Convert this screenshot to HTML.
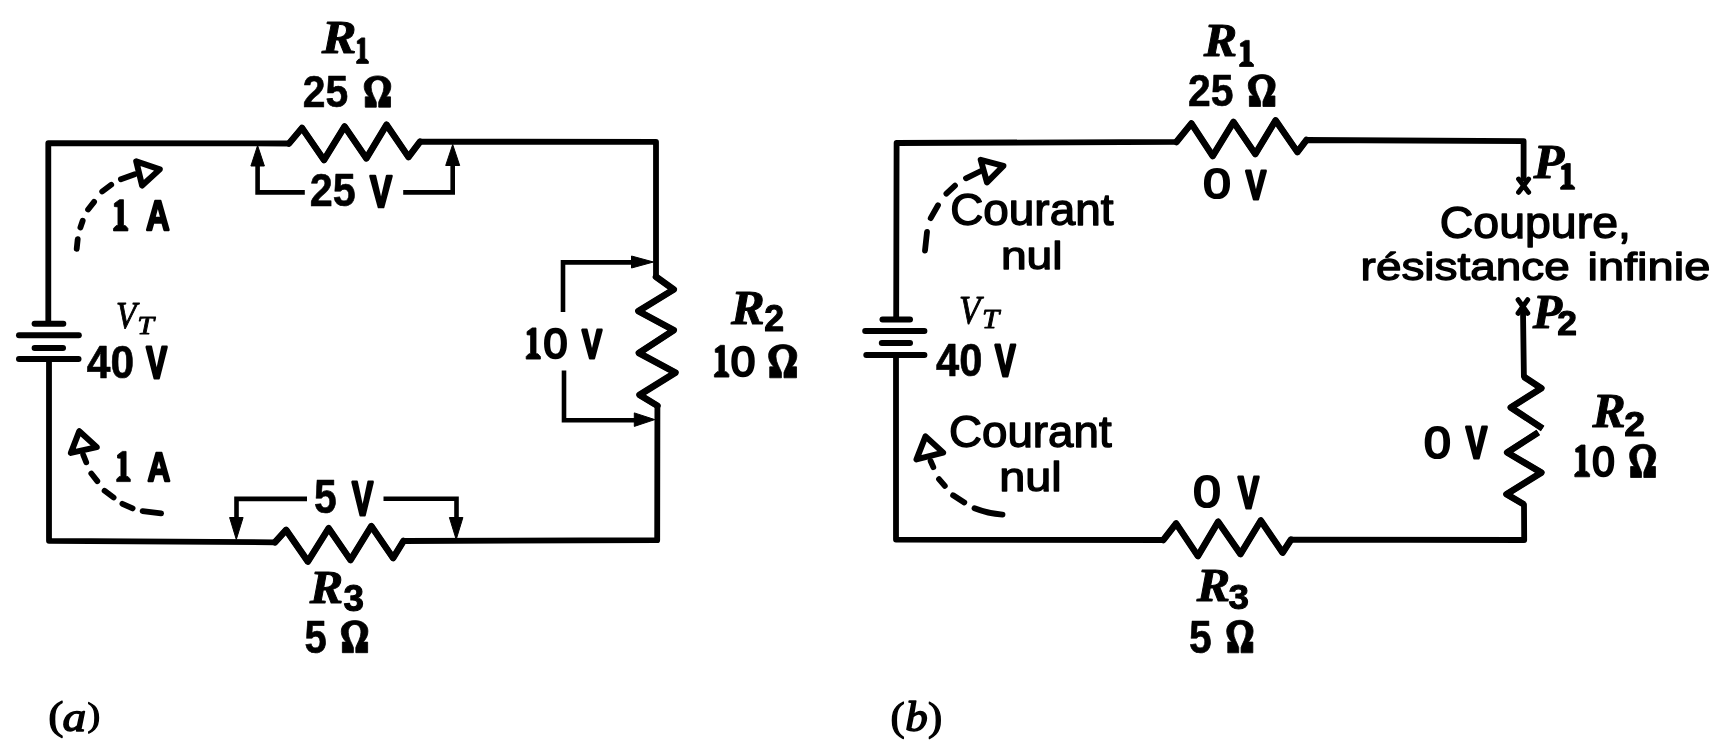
<!DOCTYPE html>
<html><head><meta charset="utf-8"><title>Circuit</title>
<style>
html,body{margin:0;padding:0;background:#fff;}
body{width:1720px;height:751px;overflow:hidden;font-family:"Liberation Sans",sans-serif;}
svg{display:block;filter:grayscale(1);}
text{font-size:100px;fill:#000;}
</style></head><body>
<svg width="1720" height="751" viewBox="0 0 1720 751">
<rect x="0" y="0" width="1720" height="751" fill="#fff"/>
<path d="M48.3,321.5 L48.3,143.2 L289.0,143.5 L302.0,128.0 L324.0,160.0 L344.6,126.5 L366.4,158.3 L386.6,124.8 L408.5,157.0 L420.0,141.7 L656.0,141.8 L656.0,276.8 L673.7,289.5 L638.4,311.1 L673.7,330.2 L638.9,353.0 L675.4,372.6 L639.6,394.9 L657.4,405.7 L657.2,540.2 L403.5,541.0 L393.1,558.0 L371.3,526.2 L350.5,560.0 L328.7,528.3 L307.9,561.5 L286.1,530.0 L275.0,542.3 L49.0,540.8 L49.0,361.0" fill="none" stroke="#000" stroke-width="5.8" stroke-linejoin="round" stroke-linecap="butt"/>
<path d="M289.0,143.5 L302.0,128.0 L324.0,160.0 L344.6,126.5 L366.4,158.3 L386.6,124.8 L408.5,157.0 L420.0,141.7" fill="none" stroke="#000" stroke-width="6.6" stroke-linejoin="round" stroke-linecap="round"/>
<path d="M656.0,276.8 L673.7,289.5 L638.4,311.1 L673.7,330.2 L638.9,353.0 L675.4,372.6 L639.6,394.9 L657.4,405.7" fill="none" stroke="#000" stroke-width="6.6" stroke-linejoin="round" stroke-linecap="round"/>
<path d="M403.5,541.0 L393.1,558.0 L371.3,526.2 L350.5,560.0 L328.7,528.3 L307.9,561.5 L286.1,530.0 L275.0,542.3" fill="none" stroke="#000" stroke-width="6.6" stroke-linejoin="round" stroke-linecap="round"/>
<line x1="34.6" y1="323.7" x2="63.3" y2="323.7" stroke="#000" stroke-width="6.0" stroke-linecap="round"/>
<line x1="19.0" y1="335.2" x2="78.8" y2="335.2" stroke="#000" stroke-width="6.0" stroke-linecap="round"/>
<line x1="34.6" y1="348.0" x2="63.0" y2="348.0" stroke="#000" stroke-width="6.0" stroke-linecap="round"/>
<line x1="19.0" y1="359.0" x2="78.5" y2="359.0" stroke="#000" stroke-width="6.0" stroke-linecap="round"/>
<path d="M257.6,160.0 L257.6,192.4 L304.8,192.4" fill="none" stroke="#000" stroke-width="4.6" stroke-linejoin="miter" stroke-linecap="butt"/>
<path d="M403.2,192.4 L452.7,192.4 L452.7,160.0" fill="none" stroke="#000" stroke-width="4.6" stroke-linejoin="miter" stroke-linecap="butt"/>
<polygon points="257.6,145.5 264.4,166.0 250.9,166.0" fill="#000" stroke="#000" stroke-width="1" stroke-linejoin="round"/>
<polygon points="452.7,144.5 459.7,165.5 445.7,165.5" fill="#000" stroke="#000" stroke-width="1" stroke-linejoin="round"/>
<path d="M563.0,312.0 L563.0,262.4 L640.0,262.4" fill="none" stroke="#000" stroke-width="4.6" stroke-linejoin="miter" stroke-linecap="butt"/>
<polygon points="653.5,262.0 631.5,268.0 631.5,256.0" fill="#000" stroke="#000" stroke-width="1" stroke-linejoin="round"/>
<path d="M564.0,370.5 L564.0,420.2 L640.0,420.2" fill="none" stroke="#000" stroke-width="4.6" stroke-linejoin="miter" stroke-linecap="butt"/>
<polygon points="654.8,419.6 634.3,426.4 634.3,412.9" fill="#000" stroke="#000" stroke-width="1" stroke-linejoin="round"/>
<path d="M307.0,498.9 L236.5,498.9 L236.5,520.0" fill="none" stroke="#000" stroke-width="4.6" stroke-linejoin="miter" stroke-linecap="butt"/>
<polygon points="236.3,539.5 229.6,517.5 243.1,517.5" fill="#000" stroke="#000" stroke-width="1" stroke-linejoin="round"/>
<path d="M383.5,498.8 L456.5,498.8 L456.5,520.0" fill="none" stroke="#000" stroke-width="4.6" stroke-linejoin="miter" stroke-linecap="butt"/>
<polygon points="456.2,539.5 449.4,517.5 462.9,517.5" fill="#000" stroke="#000" stroke-width="1" stroke-linejoin="round"/>
<line x1="76.7" y1="248.9" x2="77.7" y2="239.2" stroke="#000" stroke-width="5.8" stroke-linecap="round"/>
<line x1="80.4" y1="227.5" x2="82.7" y2="220.7" stroke="#000" stroke-width="5.8" stroke-linecap="round"/>
<line x1="88.1" y1="209.5" x2="94.1" y2="201.9" stroke="#000" stroke-width="5.8" stroke-linecap="round"/>
<line x1="102.2" y1="191.5" x2="111.2" y2="184.7" stroke="#000" stroke-width="5.8" stroke-linecap="round"/>
<line x1="120.9" y1="179.3" x2="134.8" y2="174.3" stroke="#000" stroke-width="5.8" stroke-linecap="round"/>
<polygon points="136.2,161.3 159.8,169.4 142.1,185.5" fill="none" stroke="#000" stroke-width="6.0" stroke-linejoin="round"/>
<line x1="83.2" y1="454.7" x2="86.2" y2="462.3" stroke="#000" stroke-width="5.8" stroke-linecap="round"/>
<line x1="91.3" y1="473.5" x2="97.3" y2="481.1" stroke="#000" stroke-width="5.8" stroke-linecap="round"/>
<line x1="104.6" y1="490.7" x2="113.6" y2="497.5" stroke="#000" stroke-width="5.8" stroke-linecap="round"/>
<line x1="122.4" y1="503.8" x2="132.6" y2="508.4" stroke="#000" stroke-width="5.8" stroke-linecap="round"/>
<line x1="142.6" y1="511.1" x2="161.1" y2="513.4" stroke="#000" stroke-width="5.8" stroke-linecap="round"/>
<polygon points="79.3,431.2 70.9,452.9 96.8,447.1" fill="none" stroke="#000" stroke-width="6.0" stroke-linejoin="round"/>
<line x1="925.0" y1="250.5" x2="927.0" y2="232.0" stroke="#000" stroke-width="5.8" stroke-linecap="round"/>
<line x1="930.7" y1="218.1" x2="938.0" y2="205.3" stroke="#000" stroke-width="5.8" stroke-linecap="round"/>
<line x1="946.4" y1="193.7" x2="955.0" y2="185.7" stroke="#000" stroke-width="5.8" stroke-linecap="round"/>
<line x1="966.0" y1="178.3" x2="980.9" y2="171.0" stroke="#000" stroke-width="5.8" stroke-linecap="round"/>
<polygon points="980.7,159.8 1003.4,165.9 987.0,182.4" fill="none" stroke="#000" stroke-width="6.0" stroke-linejoin="round"/>
<line x1="930.6" y1="461.0" x2="933.3" y2="467.2" stroke="#000" stroke-width="5.8" stroke-linecap="round"/>
<line x1="939.0" y1="479.1" x2="944.8" y2="485.9" stroke="#000" stroke-width="5.8" stroke-linecap="round"/>
<line x1="953.1" y1="495.3" x2="964.3" y2="502.5" stroke="#000" stroke-width="5.8" stroke-linecap="round"/>
<path d="M974.5,508.2 Q988,513.5 1002.5,514.6" fill="none" stroke="#000" stroke-width="5.8" stroke-linejoin="round" stroke-linecap="round"/>
<polygon points="925.5,436.4 916.5,459.4 943.2,452.6" fill="none" stroke="#000" stroke-width="6.0" stroke-linejoin="round"/>
<path d="M896.2,317.0 L896.6,143.0 L1176.5,141.9 L1191.4,123.5 L1212.7,156.0 L1233.5,122.0 L1255.3,154.0 L1275.6,120.4 L1297.4,152.0 L1306.5,140.0 L1523.6,141.2 L1523.6,181.0" fill="none" stroke="#000" stroke-width="5.8" stroke-linejoin="round" stroke-linecap="butt"/>
<path d="M1523.0,311.0 L1523.9,376.8 L1541.3,388.3 L1510.8,407.5 L1542.6,428.4" fill="none" stroke="#000" stroke-width="5.8" stroke-linejoin="round" stroke-linecap="butt"/>
<path d="M1538.2,432.4 L1507.2,452.5 L1541.3,472.6 L1506.5,494.2 L1524.0,504.5 L1524.2,540.0 L1291.0,539.6 L1282.6,552.6 L1260.8,520.6 L1240.5,554.0 L1218.2,521.8 L1197.9,556.0 L1176.1,523.5 L1163.3,540.0 L896.0,539.6 L896.0,357.0" fill="none" stroke="#000" stroke-width="5.8" stroke-linejoin="round" stroke-linecap="butt"/>
<path d="M1176.5,141.9 L1191.4,123.5 L1212.7,156.0 L1233.5,122.0 L1255.3,154.0 L1275.6,120.4 L1297.4,152.0 L1306.5,140.0" fill="none" stroke="#000" stroke-width="6.6" stroke-linejoin="round" stroke-linecap="round"/>
<path d="M1523.9,376.8 L1541.3,388.3 L1510.8,407.5 L1542.6,428.4" fill="none" stroke="#000" stroke-width="6.6" stroke-linejoin="round" stroke-linecap="butt"/>
<path d="M1538.2,432.4 L1507.2,452.5 L1541.3,472.6 L1506.5,494.2 L1524.0,504.5" fill="none" stroke="#000" stroke-width="6.6" stroke-linejoin="round" stroke-linecap="butt"/>
<path d="M1291.0,539.6 L1282.6,552.6 L1260.8,520.6 L1240.5,554.0 L1218.2,521.8 L1197.9,556.0 L1176.1,523.5 L1163.3,540.0" fill="none" stroke="#000" stroke-width="6.6" stroke-linejoin="round" stroke-linecap="round"/>
<line x1="882.5" y1="319.5" x2="910.0" y2="319.5" stroke="#000" stroke-width="6.0" stroke-linecap="round"/>
<line x1="865.2" y1="331.0" x2="924.4" y2="331.0" stroke="#000" stroke-width="6.0" stroke-linecap="round"/>
<line x1="881.8" y1="343.0" x2="910.0" y2="343.0" stroke="#000" stroke-width="6.0" stroke-linecap="round"/>
<line x1="866.3" y1="355.0" x2="924.4" y2="355.0" stroke="#000" stroke-width="6.0" stroke-linecap="round"/>
<path d="M1518.6,179.1 L1528.6,192.3 M1528.6,179.1 L1518.6,192.3" stroke="#000" stroke-width="5.0" stroke-linecap="round" fill="none"/>
<path d="M1518.1,299.7 L1527.7,313.3 M1527.7,299.7 L1518.1,313.3" stroke="#000" stroke-width="5.0" stroke-linecap="round" fill="none"/>
<text transform="matrix(0.5206 0 0 0.4626 321.70 53.30)" font-family="'Liberation Serif', serif" font-weight="bold" font-style="italic" stroke="#000" stroke-width="2.03" stroke-linejoin="round">R</text>
<path d="M361.56,37.90 L364.74,37.90 L364.74,59.06 L366.28,59.06 L368.40,61.36 L368.40,63.40 L356.60,63.40 L356.60,61.36 L358.84,59.06 L360.26,59.06 L360.26,43.77 L357.31,43.51 L357.31,40.96 Z" fill="#000" stroke="#000" stroke-width="0.8" stroke-linejoin="round"/>
<text transform="matrix(0.4086 0 0 0.4493 302.87 106.75)" font-family="'Liberation Sans', sans-serif" font-weight="bold" font-style="normal" stroke="#000" stroke-width="1.40" stroke-linejoin="round">25</text>
<path d="M365.26,107.20 L365.26,96.87 L369.25,96.87 C365.53,93.11 364.20,89.98 364.20,86.23 C364.20,79.97 370.05,75.90 377.77,75.90 C385.48,75.90 390.80,79.97 390.80,86.23 C390.80,89.98 389.47,93.11 386.01,96.87 L390.53,96.87 L390.53,107.20 L378.70,107.20 L378.70,102.19 C380.16,97.81 383.88,93.11 383.88,87.17 C383.88,82.79 381.49,79.66 377.77,79.66 C374.04,79.66 371.12,82.79 371.12,87.17 C371.12,93.11 374.84,97.81 376.30,102.19 L376.30,107.20 Z" fill="#000" stroke="#000" stroke-width="0.8" stroke-linejoin="round"/>
<text transform="matrix(0.4133 0 0 0.4577 309.85 206.44)" font-family="'Liberation Sans', sans-serif" font-weight="bold" font-style="normal" stroke="#000" stroke-width="1.38" stroke-linejoin="round">25</text>
<text transform="matrix(0.3298 0 0 0.4406 370.04 206.70)" font-family="'Liberation Sans', sans-serif" font-weight="bold" font-style="normal" stroke="#000" stroke-width="6.23" stroke-linejoin="round">V</text>
<path d="M119.55,199.70 L123.44,199.70 L123.44,225.60 L125.31,225.60 L127.90,228.40 L127.90,230.90 L113.50,230.90 L113.50,228.40 L116.24,225.60 L117.96,225.60 L117.96,206.88 L114.36,206.56 L114.36,203.44 Z" fill="#000" stroke="#000" stroke-width="0.8" stroke-linejoin="round"/>
<text transform="matrix(0.3284 0 0 0.4246 145.98 230.30)" font-family="'Liberation Sans', sans-serif" font-weight="bold" font-style="normal" stroke="#000" stroke-width="5.31" stroke-linejoin="round">A</text>
<text transform="matrix(0.3328 0 0 0.3896 115.99 328.17)" font-family="'Liberation Serif', serif" font-weight="normal" font-style="italic" stroke="#000" stroke-width="2.49" stroke-linejoin="round">V</text>
<text transform="matrix(0.3000 0 0 0.2519 137.20 334.15)" font-family="'Liberation Serif', serif" font-weight="normal" font-style="italic" stroke="#000" stroke-width="3.26" stroke-linejoin="round">T</text>
<text transform="matrix(0.4256 0 0 0.4563 86.86 378.14)" font-family="'Liberation Sans', sans-serif" font-weight="bold" font-style="normal" stroke="#000" stroke-width="1.36" stroke-linejoin="round">40</text>
<text transform="matrix(0.3115 0 0 0.4377 146.34 377.70)" font-family="'Liberation Sans', sans-serif" font-weight="bold" font-style="normal" stroke="#000" stroke-width="6.41" stroke-linejoin="round">V</text>
<path d="M532.16,327.90 L536.00,327.90 L536.00,353.80 L537.84,353.80 L540.40,356.60 L540.40,359.10 L526.20,359.10 L526.20,356.60 L528.90,353.80 L530.60,353.80 L530.60,335.08 L527.05,334.76 L527.05,331.64 Z" fill="#000" stroke="#000" stroke-width="0.8" stroke-linejoin="round"/>
<text transform="matrix(0.4313 0 0 0.4324 543.42 358.42)" font-family="'Liberation Sans', sans-serif" font-weight="normal" font-style="normal" stroke="#000" stroke-width="5.33" stroke-linejoin="round">0</text>
<text transform="matrix(0.2992 0 0 0.4072 582.05 358.30)" font-family="'Liberation Sans', sans-serif" font-weight="bold" font-style="normal" stroke="#000" stroke-width="6.79" stroke-linejoin="round">V</text>
<text transform="matrix(0.5048 0 0 0.4870 730.90 323.80)" font-family="'Liberation Serif', serif" font-weight="bold" font-style="italic" stroke="#000" stroke-width="2.02" stroke-linejoin="round">R</text>
<text transform="matrix(0.3563 0 0 0.3643 764.30 331.05)" font-family="'Liberation Sans', sans-serif" font-weight="bold" font-style="normal" stroke="#000" stroke-width="3.05" stroke-linejoin="round">2</text>
<path d="M720.49,345.30 L724.40,345.30 L724.40,371.69 L726.29,371.69 L728.90,374.56 L728.90,377.10 L714.40,377.10 L714.40,374.56 L717.15,371.69 L718.89,371.69 L718.89,352.61 L715.27,352.30 L715.27,349.12 Z" fill="#000" stroke="#000" stroke-width="0.8" stroke-linejoin="round"/>
<text transform="matrix(0.4417 0 0 0.4268 730.68 375.92)" font-family="'Liberation Sans', sans-serif" font-weight="normal" font-style="normal" stroke="#000" stroke-width="5.30" stroke-linejoin="round">0</text>
<path d="M769.73,377.80 L769.73,366.84 L773.96,366.84 C770.01,362.86 768.60,359.54 768.60,355.56 C768.60,348.92 774.80,344.60 782.98,344.60 C791.16,344.60 796.80,348.92 796.80,355.56 C796.80,359.54 795.39,362.86 791.72,366.84 L796.52,366.84 L796.52,377.80 L783.97,377.80 L783.97,372.49 C785.52,367.84 789.47,362.86 789.47,356.55 C789.47,351.90 786.93,348.58 782.98,348.58 C779.03,348.58 775.93,351.90 775.93,356.55 C775.93,362.86 779.88,367.84 781.43,372.49 L781.43,377.80 Z" fill="#000" stroke="#000" stroke-width="0.8" stroke-linejoin="round"/>
<path d="M122.41,451.40 L126.08,451.40 L126.08,476.47 L127.85,476.47 L130.30,479.18 L130.30,481.60 L116.70,481.60 L116.70,479.18 L119.28,476.47 L120.92,476.47 L120.92,458.35 L117.52,458.04 L117.52,455.02 Z" fill="#000" stroke="#000" stroke-width="0.8" stroke-linejoin="round"/>
<text transform="matrix(0.3164 0 0 0.4101 147.61 481.00)" font-family="'Liberation Sans', sans-serif" font-weight="bold" font-style="normal" stroke="#000" stroke-width="5.51" stroke-linejoin="round">A</text>
<text transform="matrix(0.4080 0 0 0.4743 314.08 513.03)" font-family="'Liberation Sans', sans-serif" font-weight="bold" font-style="normal" stroke="#000" stroke-width="1.36" stroke-linejoin="round">5</text>
<text transform="matrix(0.3176 0 0 0.4841 352.04 514.60)" font-family="'Liberation Sans', sans-serif" font-weight="bold" font-style="normal" stroke="#000" stroke-width="5.99" stroke-linejoin="round">V</text>
<text transform="matrix(0.5016 0 0 0.4672 309.80 603.40)" font-family="'Liberation Serif', serif" font-weight="bold" font-style="italic" stroke="#000" stroke-width="2.06" stroke-linejoin="round">R</text>
<text transform="matrix(0.3677 0 0 0.3606 343.53 610.99)" font-family="'Liberation Sans', sans-serif" font-weight="bold" font-style="normal" stroke="#000" stroke-width="3.02" stroke-linejoin="round">3</text>
<text transform="matrix(0.4000 0 0 0.4571 304.40 652.74)" font-family="'Liberation Sans', sans-serif" font-weight="bold" font-style="normal" stroke="#000" stroke-width="1.40" stroke-linejoin="round">5</text>
<path d="M342.36,652.70 L342.36,642.11 L346.35,642.11 C342.63,638.25 341.30,635.05 341.30,631.19 C341.30,624.77 347.15,620.60 354.87,620.60 C362.58,620.60 367.90,624.77 367.90,631.19 C367.90,635.05 366.57,638.25 363.11,642.11 L367.63,642.11 L367.63,652.70 L355.80,652.70 L355.80,647.56 C357.26,643.07 360.98,638.25 360.98,632.16 C360.98,627.66 358.59,624.45 354.87,624.45 C351.14,624.45 348.22,627.66 348.22,632.16 C348.22,638.25 351.94,643.07 353.40,647.56 L353.40,652.70 Z" fill="#000" stroke="#000" stroke-width="0.8" stroke-linejoin="round"/>
<text transform="matrix(0.4588 0 0 0.4000 48.29 728.65)" font-family="'Liberation Serif', serif" font-weight="normal" font-style="normal" stroke="#000" stroke-width="3.03" stroke-linejoin="round">(</text>
<text transform="matrix(0.4744 0 0 0.4167 62.53 731.03)" font-family="'Liberation Serif', serif" font-weight="normal" font-style="italic" stroke="#000" stroke-width="3.37" stroke-linejoin="round">a</text>
<text transform="matrix(0.3808 0 0 0.3363 87.41 726.02)" font-family="'Liberation Serif', serif" font-weight="normal" font-style="normal" stroke="#000" stroke-width="3.63" stroke-linejoin="round">)</text>
<text transform="matrix(0.5016 0 0 0.4718 1203.80 55.50)" font-family="'Liberation Serif', serif" font-weight="bold" font-style="italic" stroke="#000" stroke-width="2.05" stroke-linejoin="round">R</text>
<path d="M1245.44,40.40 L1249.19,40.40 L1249.19,62.06 L1251.00,62.06 L1253.50,64.41 L1253.50,66.50 L1239.60,66.50 L1239.60,64.41 L1242.24,62.06 L1243.91,62.06 L1243.91,46.40 L1240.43,46.14 L1240.43,43.53 Z" fill="#000" stroke="#000" stroke-width="0.8" stroke-linejoin="round"/>
<text transform="matrix(0.4086 0 0 0.4521 1187.97 106.15)" font-family="'Liberation Sans', sans-serif" font-weight="bold" font-style="normal" stroke="#000" stroke-width="1.39" stroke-linejoin="round">25</text>
<path d="M1249.38,106.50 L1249.38,95.97 L1253.41,95.97 C1249.65,92.15 1248.30,88.96 1248.30,85.13 C1248.30,78.75 1254.22,74.60 1262.02,74.60 C1269.82,74.60 1275.20,78.75 1275.20,85.13 C1275.20,88.96 1273.85,92.15 1270.36,95.97 L1274.93,95.97 L1274.93,106.50 L1262.96,106.50 L1262.96,101.40 C1264.44,96.93 1268.21,92.15 1268.21,86.08 C1268.21,81.62 1265.78,78.43 1262.02,78.43 C1258.25,78.43 1255.29,81.62 1255.29,86.08 C1255.29,92.15 1259.06,96.93 1260.54,101.40 L1260.54,106.50 Z" fill="#000" stroke="#000" stroke-width="0.8" stroke-linejoin="round"/>
<text transform="matrix(0.4937 0 0 0.4183 1203.18 198.43)" font-family="'Liberation Sans', sans-serif" font-weight="normal" font-style="normal" stroke="#000" stroke-width="5.04" stroke-linejoin="round">0</text>
<text transform="matrix(0.3053 0 0 0.4145 1245.85 198.80)" font-family="'Liberation Sans', sans-serif" font-weight="bold" font-style="normal" stroke="#000" stroke-width="6.67" stroke-linejoin="round">V</text>
<text transform="matrix(0.4589 0 0 0.4423 950.21 225.36)" font-family="'Liberation Sans', sans-serif" font-weight="normal" font-style="normal" stroke="#000" stroke-width="3.11" stroke-linejoin="round">Courant</text>
<text transform="matrix(0.4617 0 0 0.3862 1000.90 268.60)" font-family="'Liberation Sans', sans-serif" font-weight="normal" font-style="normal" stroke="#000" stroke-width="3.30" stroke-linejoin="round">nul</text>
<text transform="matrix(0.3511 0 0 0.3970 958.99 322.85)" font-family="'Liberation Serif', serif" font-weight="normal" font-style="italic" stroke="#000" stroke-width="2.41" stroke-linejoin="round">V</text>
<text transform="matrix(0.3091 0 0 0.2656 982.04 328.45)" font-family="'Liberation Serif', serif" font-weight="normal" font-style="italic" stroke="#000" stroke-width="3.13" stroke-linejoin="round">T</text>
<text transform="matrix(0.4171 0 0 0.4606 935.97 376.44)" font-family="'Liberation Sans', sans-serif" font-weight="bold" font-style="normal" stroke="#000" stroke-width="1.37" stroke-linejoin="round">40</text>
<text transform="matrix(0.3084 0 0 0.4377 995.05 376.00)" font-family="'Liberation Sans', sans-serif" font-weight="bold" font-style="normal" stroke="#000" stroke-width="6.43" stroke-linejoin="round">V</text>
<text transform="matrix(0.4571 0 0 0.4394 949.01 446.86)" font-family="'Liberation Sans', sans-serif" font-weight="normal" font-style="normal" stroke="#000" stroke-width="3.12" stroke-linejoin="round">Courant</text>
<text transform="matrix(0.4675 0 0 0.3986 999.16 491.10)" font-family="'Liberation Sans', sans-serif" font-weight="normal" font-style="normal" stroke="#000" stroke-width="3.23" stroke-linejoin="round">nul</text>
<text transform="matrix(0.4937 0 0 0.4437 1193.18 507.21)" font-family="'Liberation Sans', sans-serif" font-weight="normal" font-style="normal" stroke="#000" stroke-width="4.91" stroke-linejoin="round">0</text>
<text transform="matrix(0.3145 0 0 0.4435 1238.04 507.60)" font-family="'Liberation Sans', sans-serif" font-weight="bold" font-style="normal" stroke="#000" stroke-width="6.33" stroke-linejoin="round">V</text>
<text transform="matrix(0.5032 0 0 0.4748 1533.60 177.50)" font-family="'Liberation Serif', serif" font-weight="bold" font-style="italic" stroke="#000" stroke-width="2.04" stroke-linejoin="round">P</text>
<path d="M1566.48,163.50 L1570.26,163.50 L1570.26,184.91 L1572.08,184.91 L1574.60,187.24 L1574.60,189.30 L1560.60,189.30 L1560.60,187.24 L1563.26,184.91 L1564.94,184.91 L1564.94,169.43 L1561.44,169.18 L1561.44,166.60 Z" fill="#000" stroke="#000" stroke-width="0.8" stroke-linejoin="round"/>
<text transform="matrix(0.4647 0 0 0.4352 1439.78 237.96)" font-family="'Liberation Sans', sans-serif" font-weight="normal" font-style="normal" stroke="#000" stroke-width="3.11" stroke-linejoin="round">Coupure,</text>
<text transform="matrix(0.4589 0 0 0.3890 1360.62 280.30)" font-family="'Liberation Sans', sans-serif" font-weight="normal" font-style="normal" stroke="#000" stroke-width="3.30" stroke-linejoin="round">résistance</text>
<text transform="matrix(0.4704 0 0 0.3890 1587.44 280.30)" font-family="'Liberation Sans', sans-serif" font-weight="normal" font-style="normal" stroke="#000" stroke-width="3.26" stroke-linejoin="round">infinie</text>
<text transform="matrix(0.4806 0 0 0.4901 1532.70 327.50)" font-family="'Liberation Serif', serif" font-weight="bold" font-style="italic" stroke="#000" stroke-width="2.06" stroke-linejoin="round">P</text>
<text transform="matrix(0.3542 0 0 0.3586 1557.21 335.45)" font-family="'Liberation Sans', sans-serif" font-weight="bold" font-style="normal" stroke="#000" stroke-width="3.09" stroke-linejoin="round">2</text>
<text transform="matrix(0.4812 0 0 0.4423 1424.03 457.91)" font-family="'Liberation Sans', sans-serif" font-weight="normal" font-style="normal" stroke="#000" stroke-width="4.98" stroke-linejoin="round">0</text>
<text transform="matrix(0.3206 0 0 0.4464 1465.84 457.80)" font-family="'Liberation Sans', sans-serif" font-weight="bold" font-style="normal" stroke="#000" stroke-width="6.26" stroke-linejoin="round">V</text>
<text transform="matrix(0.4968 0 0 0.4794 1592.40 427.00)" font-family="'Liberation Serif', serif" font-weight="bold" font-style="italic" stroke="#000" stroke-width="2.05" stroke-linejoin="round">R</text>
<text transform="matrix(0.3750 0 0 0.3600 1624.24 436.35)" font-family="'Liberation Sans', sans-serif" font-weight="bold" font-style="normal" stroke="#000" stroke-width="2.99" stroke-linejoin="round">2</text>
<path d="M1581.02,445.00 L1585.01,445.00 L1585.01,471.39 L1586.94,471.39 L1589.60,474.26 L1589.60,476.80 L1574.80,476.80 L1574.80,474.26 L1577.61,471.39 L1579.39,471.39 L1579.39,452.31 L1575.69,452.00 L1575.69,448.82 Z" fill="#000" stroke="#000" stroke-width="0.8" stroke-linejoin="round"/>
<text transform="matrix(0.4042 0 0 0.4282 1592.13 476.32)" font-family="'Liberation Sans', sans-serif" font-weight="normal" font-style="normal" stroke="#000" stroke-width="5.53" stroke-linejoin="round">0</text>
<path d="M1630.64,477.50 L1630.64,466.54 L1634.56,466.54 C1630.91,462.56 1629.60,459.24 1629.60,455.26 C1629.60,448.62 1635.34,444.30 1642.91,444.30 C1650.48,444.30 1655.70,448.62 1655.70,455.26 C1655.70,459.24 1654.39,462.56 1651.00,466.54 L1655.44,466.54 L1655.44,477.50 L1643.82,477.50 L1643.82,472.19 C1645.26,467.54 1648.91,462.56 1648.91,456.25 C1648.91,451.60 1646.56,448.28 1642.91,448.28 C1639.26,448.28 1636.39,451.60 1636.39,456.25 C1636.39,462.56 1640.04,467.54 1641.48,472.19 L1641.48,477.50 Z" fill="#000" stroke="#000" stroke-width="0.8" stroke-linejoin="round"/>
<text transform="matrix(0.5016 0 0 0.4718 1196.80 600.50)" font-family="'Liberation Serif', serif" font-weight="bold" font-style="italic" stroke="#000" stroke-width="2.05" stroke-linejoin="round">R</text>
<text transform="matrix(0.3677 0 0 0.3592 1228.53 608.99)" font-family="'Liberation Sans', sans-serif" font-weight="bold" font-style="normal" stroke="#000" stroke-width="3.03" stroke-linejoin="round">3</text>
<text transform="matrix(0.4080 0 0 0.4600 1188.98 653.04)" font-family="'Liberation Sans', sans-serif" font-weight="bold" font-style="normal" stroke="#000" stroke-width="1.38" stroke-linejoin="round">5</text>
<path d="M1227.76,652.80 L1227.76,642.08 L1231.72,642.08 C1228.02,638.18 1226.70,634.92 1226.70,631.02 C1226.70,624.52 1232.51,620.30 1240.16,620.30 C1247.82,620.30 1253.10,624.52 1253.10,631.02 C1253.10,634.92 1251.78,638.18 1248.35,642.08 L1252.84,642.08 L1252.84,652.80 L1241.09,652.80 L1241.09,647.60 C1242.54,643.05 1246.24,638.18 1246.24,632.00 C1246.24,627.45 1243.86,624.20 1240.16,624.20 C1236.47,624.20 1233.56,627.45 1233.56,632.00 C1233.56,638.18 1237.26,643.05 1238.71,647.60 L1238.71,652.80 Z" fill="#000" stroke="#000" stroke-width="0.8" stroke-linejoin="round"/>
<text transform="matrix(0.4275 0 0 0.4044 890.53 729.76)" font-family="'Liberation Serif', serif" font-weight="normal" font-style="normal" stroke="#000" stroke-width="3.13" stroke-linejoin="round">(</text>
<text transform="matrix(0.4506 0 0 0.4213 905.17 731.03)" font-family="'Liberation Serif', serif" font-weight="normal" font-style="italic" stroke="#000" stroke-width="3.44" stroke-linejoin="round">b</text>
<text transform="matrix(0.4269 0 0 0.4044 928.07 729.76)" font-family="'Liberation Serif', serif" font-weight="normal" font-style="normal" stroke="#000" stroke-width="3.13" stroke-linejoin="round">)</text>
</svg>
</body></html>
